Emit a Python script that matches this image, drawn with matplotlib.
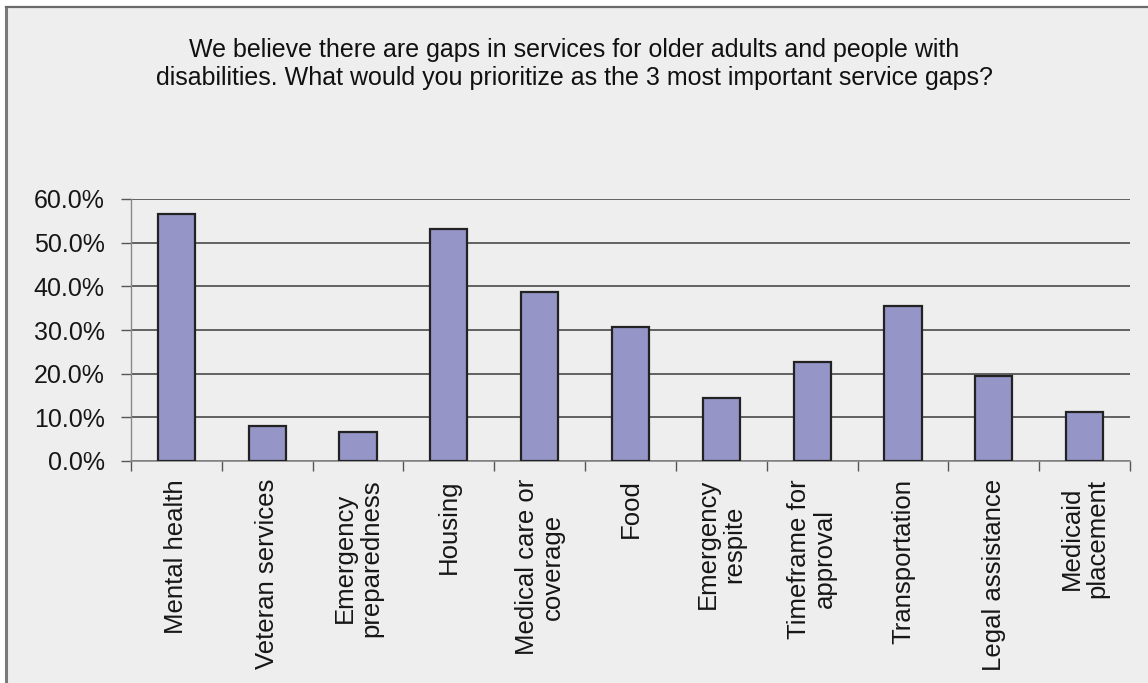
import matplotlib
matplotlib.use("Agg")
import matplotlib.pyplot as plt
from matplotlib.patches import Rectangle
from matplotlib.ticker import FuncFormatter, MultipleLocator

categories = [
    "Mental health", "Veteran services", "Emergency\npreparedness", "Housing",
    "Medical care or\ncoverage", "Food", "Emergency\nrespite", "Timeframe for\napproval",
    "Transportation", "Legal assistance", "Medicaid\nplacement",
]
shares = [56.6, 8.1, 6.6, 53.2, 38.7, 30.7, 14.5, 22.7, 35.6, 19.5, 11.3]
title_text = ("We believe there are gaps in services for older adults and people with\n"
              "disabilities. What would you prioritize as the 3 most important service gaps?")

plt.rcParams["font.family"] = ["Liberation Sans", "DejaVu Sans"]

W, H = 1148, 683
fig = plt.figure(figsize=(W / 100, H / 100), dpi=100, facecolor="white")

# chart panel with a frame on its top and left sides
bg = "#eeeeee"
fig.patches.append(Rectangle((5.5 / W, 0), 1, 1 - 7 / H, transform=fig.transFigure,
                             facecolor=bg, edgecolor="none", zorder=-5))
fig.add_artist(plt.Line2D([5.5 / W, 5.5 / W], [0, 1 - 7 / H], transform=fig.transFigure,
                          color="#7a7a7a", lw=2.2, zorder=-4))
fig.add_artist(plt.Line2D([5.5 / W, 1], [1 - 7 / H, 1 - 7 / H], transform=fig.transFigure,
                          color="#6a6a6a", lw=1.6, zorder=-4))

left, right, top, bottom = 131, 1130, 199, 461
ax = fig.add_axes([left / W, 1 - bottom / H, (right - left) / W, (bottom - top) / H])
ax.set_facecolor(bg)

x = list(range(len(categories)))
ax.bar(x, shares, width=0.41, color="#9595c8", edgecolor="#222222", linewidth=1.6, zorder=3)

ax.set_xlim(-0.5, len(categories) - 0.5)
ax.set_ylim(0, 60)
ax.yaxis.set_major_locator(MultipleLocator(10))
ax.yaxis.set_major_formatter(FuncFormatter(lambda v, _: f"{v:.1f}%"))
ax.grid(axis="y", color="#3a3a3a", linewidth=1.1, zorder=1)
ax.set_axisbelow(True)

for s in ["top", "right"]:
    ax.spines[s].set_visible(False)
ax.spines["left"].set_color("#888888")
ax.spines["left"].set_linewidth(1.0)
ax.spines["bottom"].set_color("#888888")
ax.spines["bottom"].set_linewidth(1.2)

ax.set_xticks(x)
ax.set_xticklabels(categories, rotation=90, fontsize=18.5, va="top", ha="center",
                   linespacing=1.1, color="#161616")
ax.tick_params(axis="x", which="major", length=0, pad=13)
ax.set_xticks([i - 0.5 for i in range(len(categories) + 1)], minor=True)
ax.tick_params(axis="x", which="minor", length=7, width=1.0, color="#555555", direction="out")
ax.tick_params(axis="y", length=7, width=1.0, color="#555555", labelsize=18,
               labelcolor="#161616", pad=12)

fig.text(574 / W, 1 - 64 / H, title_text, ha="center", va="center", fontsize=18,
         color="#111111", linespacing=1.2)

fig.savefig("out.png", dpi=100, facecolor="white")
